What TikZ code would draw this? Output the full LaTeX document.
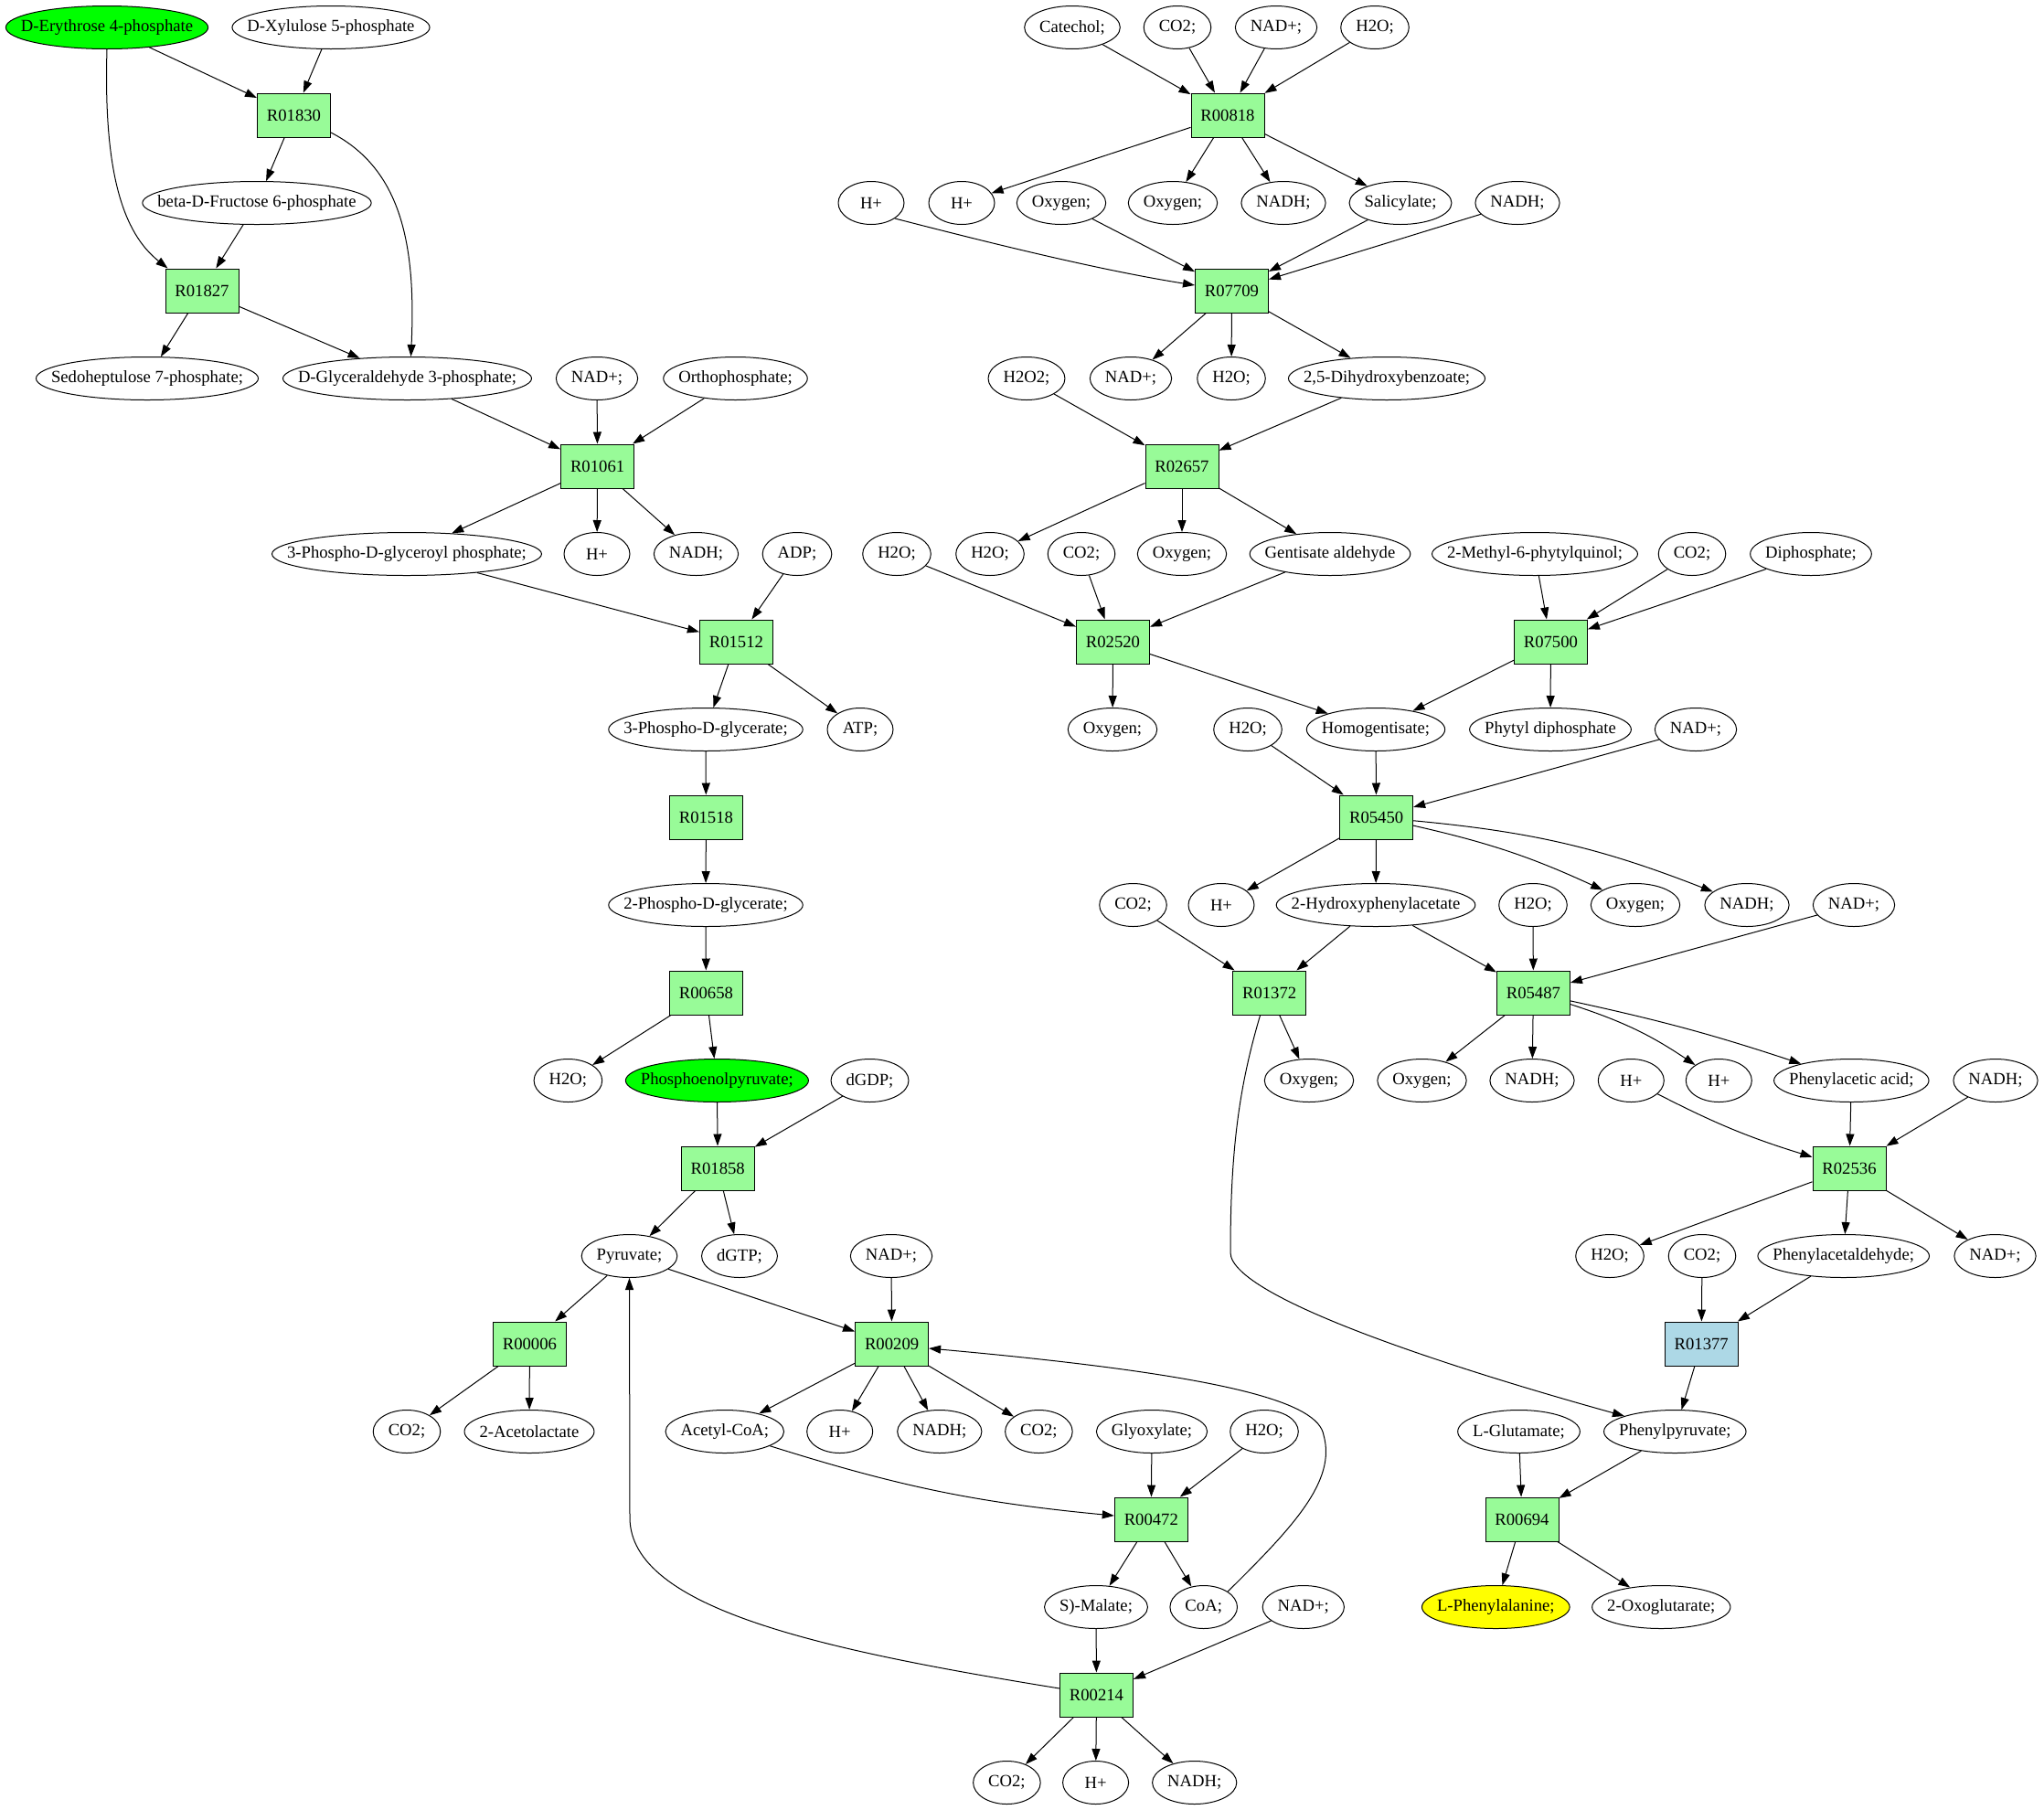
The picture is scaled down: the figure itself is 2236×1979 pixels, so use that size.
\documentclass[tikz,border=0pt]{standalone}
\usepackage{fontspec}
\setmainfont{Liberation Serif}
\usetikzlibrary{arrows.meta,shapes.geometric}
\definecolor{rxgreen}{HTML}{98FB98}
\definecolor{rxblue}{HTML}{ADD8E6}
\definecolor{mgreen}{HTML}{00FF00}
\definecolor{myellow}{HTML}{FFFF00}
\newcommand\metfont{\fontsize{18.67pt}{22pt}\selectfont}
% metabolite ellipse: #1 options, #2 name, #3 position, #4 text
% the text box is narrowed by 1/sqrt(2) so that the ellipse is only a little wider than its text
\newcommand\met[4][]{%
  \node[metab,#1] (#2) at (#3) {\makebox[0.7071\width]{#4}};}
\begin{document}
\begin{tikzpicture}[x=1pt,y=-1pt,
  every node/.style={font=\metfont},
  metab/.style={ellipse,draw,line width=1pt,inner xsep=11.7pt,inner ysep=0pt,minimum width=72pt,minimum height=47pt},
  rx/.style={rectangle,draw,line width=1pt,fill=rxgreen,minimum width=80pt,minimum height=48pt,inner sep=0pt},
  rxb/.style={rx,fill=rxblue},
  arr/.style={-{Triangle[length=13pt,width=9pt]},line width=1pt}]
\useasboundingbox (0,0) rectangle (2236,1979);
% row 1
\met[fill=mgreen]{ery}{117,30}{D-Erythrose 4-phosphate}
\met{xyl}{362,30}{D-Xylulose 5-phosphate}
\met{catechol}{1173,30}{Catechol;}
\met{co2a}{1288,30}{CO2;}
\met{nada}{1396,30}{NAD+;}
\met{h2oa}{1504,30}{H2O;}
% row 2
\node[rx] (r01830) at (321.5,126) {R01830};
\node[rx] (r00818) at (1343,126) {R00818};
% row 3
\met{fru}{281,222}{beta-D-Fructose 6-phosphate}
\met{hpa}{953,222}{H+}
\met{hpb}{1052,222}{H+}
\met{oxa}{1161,222}{Oxygen;}
\met{oxb}{1283,222}{Oxygen;}
\met{nadha}{1404,222}{NADH;}
\met{sal}{1532,222}{Salicylate;}
\met{nadhb}{1660,222}{NADH;}
% row 4
\node[rx] (r01827) at (221,318) {R01827};
\node[rx] (r07709) at (1347.5,318) {R07709};
% row 5
\met{sedo}{161,414}{Sedoheptulose 7-phosphate;}
\met{glyc}{445.5,414}{D-Glyceraldehyde 3-phosphate;}
\met{nadb}{653,414}{NAD+;}
\met{ortho}{804.5,414}{Orthophosphate;}
\met{h2o2}{1123,414}{H2O2;}
\met{nadc}{1237,414}{NAD+;}
\met{h2ob}{1347,414}{H2O;}
\met{dhb}{1517,414}{2,5-Dihydroxybenzoate;}
% row 6
\node[rx] (r01061) at (653.6,510) {R01061};
\node[rx] (r02657) at (1293,510) {R02657};
% row 7
\met{pgp}{445,606}{3-Phospho-D-glyceroyl phosphate;}
\met{hpc}{653,606}{H+}
\met{nadhc}{761.5,606}{NADH;}
\met{adp}{872,606}{ADP;}
\met{h2oc}{981,606}{H2O;}
\met{h2od}{1083,606}{H2O;}
\met{co2b}{1183,606}{CO2;}
\met{oxc}{1293,606}{Oxygen;}
\met{gent}{1455,606}{Gentisate aldehyde}
\met{mpq}{1679,606}{2-Methyl-6-phytylquinol;}
\met{co2c}{1851,606}{CO2;}
\met{diph}{1981,606}{Diphosphate;}
% row 8
\node[rx] (r01512) at (805.4,702) {R01512};
\node[rx] (r02520) at (1217.5,702) {R02520};
\node[rx] (r07500) at (1696.4,702) {R07500};
% row 9
\met{pga3}{772,798}{3-Phospho-D-glycerate;}
\met{atp}{941,798}{ATP;}
\met{oxd}{1217,798}{Oxygen;}
\met{h2oe}{1365,798}{H2O;}
\met{hgn}{1505,798}{Homogentisate;}
\met{phyt}{1696,798}{Phytyl diphosphate}
\met{nadd}{1855,798}{NAD+;}
% row 10
\node[rx] (r01518) at (772.4,894) {R01518};
\node[rx] (r05450) at (1505.6,894) {R05450};
% row 11
\met{pga2}{772,990}{2-Phospho-D-glycerate;}
\met{co2d}{1239.5,990}{CO2;}
\met{hpd}{1336,990}{H+}
\met{hpa2}{1505,990}{2-Hydroxyphenylacetate}
\met{h2of}{1677,990}{H2O;}
\met{oxe}{1789,990}{Oxygen;}
\met{nadhd}{1911,990}{NADH;}
\met{nade}{2028,990}{NAD+;}
% row 12
\node[rx] (r00658) at (772.4,1086) {R00658};
\node[rx] (r01372) at (1388.6,1086) {R01372};
\node[rx] (r05487) at (1677.4,1086) {R05487};
% row 13
\met{h2og}{621.4,1182}{H2O;}
\met[fill=mgreen]{pep}{784.4,1182}{Phosphoenolpyruvate;}
\met{dgdp}{951.5,1182}{dGDP;}
\met{oxf}{1432,1182}{Oxygen;}
\met{oxg}{1555.5,1182}{Oxygen;}
\met{nadhe}{1676,1182}{NADH;}
\met{hpe}{1784.3,1182}{H+}
\met{hpf}{1880.3,1182}{H+}
\met{paa}{2025.3,1182}{Phenylacetic acid;}
\met{nadhf}{2183,1182}{NADH;}
% row 14
\node[rx] (r01858) at (785.2,1278) {R01858};
\node[rx] (r02536) at (2023,1278) {R02536};
% row 15
\met{pyr}{688.5,1374}{Pyruvate;}
\met{dgtp}{809,1374}{dGTP;}
\met{nadf}{975,1374}{NAD+;}
\met{h2oh}{1761,1374}{H2O;}
\met{co2e}{1862,1374}{CO2;}
\met{pald}{2016.7,1374}{Phenylacetaldehyde;}
\met{nadg}{2182.5,1374}{NAD+;}
% row 16
\node[rx] (r00006) at (579.4,1470) {R00006};
\node[rx] (r00209) at (975.6,1470) {R00209};
\node[rxb] (r01377) at (1861.2,1470) {R01377};
% row 17
\met{co2f}{445,1566}{CO2;}
\met{acl}{579,1566}{2-Acetolactate}
\met{acoa}{792.8,1566}{Acetyl-CoA;}
\met{hpg}{918.7,1566}{H+}
\met{nadhg}{1027.8,1566}{NADH;}
\met{co2g}{1136.4,1566}{CO2;}
\met{glyox}{1260,1566}{Glyoxylate;}
\met{h2oi}{1383,1566}{H2O;}
\met{glu}{1661.5,1566}{L-Glutamate;}
\met{ppyr}{1832.3,1566}{Phenylpyruvate;}
% row 18
\node[rx] (r00472) at (1259.3,1662) {R00472};
\node[rx] (r00694) at (1665,1662) {R00694};
% row 19
\met{mal}{1199,1758}{S)-Malate;}
\met{coa}{1316.7,1758}{CoA;}
\met{nadi}{1425.8,1758}{NAD+;}
\met[fill=myellow]{phe}{1636.3,1758}{L-Phenylalanine;}
\met{oxo}{1817.3,1758}{2-Oxoglutarate;}
% row 20
\node[rx] (r00214) at (1199.5,1854) {R00214};
% row 21
\met{co2h}{1101.4,1950}{CO2;}
\met{hph}{1198.6,1950}{H+}
\met{nadhh}{1306.7,1950}{NADH;}
% straight connectors
\foreach \a/\b in {ery/r01830, xyl/r01830, r01830/fru, fru/r01827, r01827/sedo, r01827/glyc,
  glyc/r01061, nadb/r01061, ortho/r01061, r01061/pgp, r01061/hpc, r01061/nadhc,
  pgp/r01512, adp/r01512, r01512/pga3, r01512/atp, pga3/r01518, r01518/pga2,
  pga2/r00658, r00658/h2og, r00658/pep, pep/r01858, dgdp/r01858, r01858/pyr, r01858/dgtp,
  pyr/r00006, pyr/r00209, nadf/r00209, r00006/co2f, r00006/acl,
  r00209/acoa, r00209/hpg, r00209/nadhg, r00209/co2g,
  glyox/r00472, h2oi/r00472, r00472/mal, r00472/coa,
  mal/r00214, nadi/r00214, r00214/co2h, r00214/hph, r00214/nadhh,
  catechol/r00818, co2a/r00818, nada/r00818, h2oa/r00818,
  r00818/hpb, r00818/oxb, r00818/nadha, r00818/sal,
  oxa/r07709, sal/r07709, nadhb/r07709, r07709/nadc, r07709/h2ob, r07709/dhb,
  h2o2/r02657, dhb/r02657, r02657/h2od, r02657/oxc, r02657/gent,
  h2oc/r02520, co2b/r02520, gent/r02520, r02520/oxd, r02520/hgn,
  mpq/r07500, co2c/r07500, diph/r07500, r07500/hgn, r07500/phyt,
  h2oe/r05450, hgn/r05450, nadd/r05450, r05450/hpd, r05450/hpa2,
  co2d/r01372, hpa2/r01372, hpa2/r05487, h2of/r05487, nade/r05487,
  r01372/oxf, r05487/oxg, r05487/nadhe,
  paa/r02536, nadhf/r02536, r02536/h2oh, r02536/pald, r02536/nadg,
  co2e/r01377, pald/r01377, r01377/ppyr, glu/r00694, ppyr/r00694, r00694/phe, r00694/oxo}
  \draw[arr] (\a) -- (\b);
% slightly bowed connectors
\draw[arr] (r05450) to[bend left=6] (oxe);
\draw[arr] (r05450) to[bend left=8] (nadhd);
\draw[arr] (r05487) to[bend left=8] (hpf);
\draw[arr] (r05487) to[bend left=3] (paa);
\draw[arr] (hpe) to[bend right=5] (r02536);
\draw[arr] (acoa) to[bend right=6] (r00472);
% curved connectors
\draw[arr] (ery.south) .. controls (113,190) and (135,255) .. ([xshift=3pt]r01827.north west);
\draw[arr] ([yshift=-19pt]r01830.east) .. controls (440,185) and (455,270) .. ([xshift=4pt]glyc.north);
\draw[arr] (hpa.south east) .. controls (1080,265) and (1200,295) .. ([yshift=6pt]r07709.west);
\draw[arr] (coa.north east) .. controls (1415,1670) and (1462,1620) .. (1448,1570)
  .. controls (1442,1535) and (1350,1505) .. ([yshift=-5pt]r00209.east);
\draw[arr] ([yshift=7pt]r00214.west) .. controls (900,1805) and (689,1760) .. (689,1660) -- (pyr.south);
\draw[arr] ([xshift=-10pt]r01372.south) .. controls (1355,1190) and (1346,1260) .. (1346,1370)
  .. controls (1346,1420) and (1600,1500) .. (ppyr.north west);
\end{tikzpicture}
\end{document}
